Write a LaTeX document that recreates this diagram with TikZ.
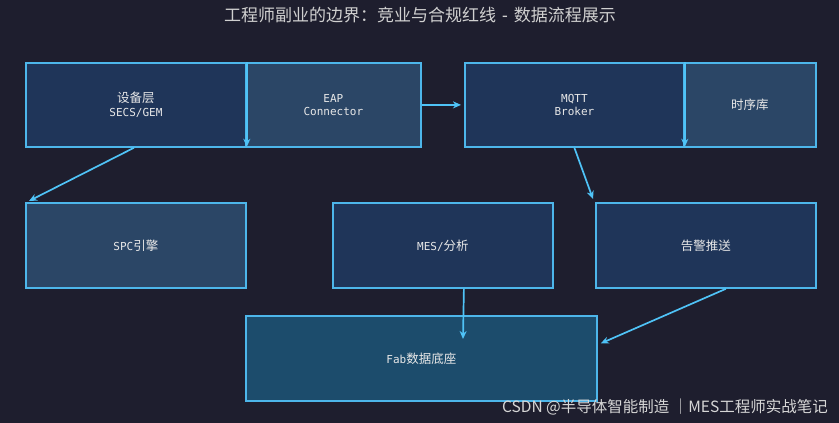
\documentclass[tikz,border=0pt]{standalone}
\usepackage{fontspec}
\usetikzlibrary{arrows.meta,calc}
\setmainfont{DejaVu Sans Mono}
\newfontfamily\cjk{Noto Sans CJK SC}
\newfontfamily\mono{DejaVu Sans Mono}
\definecolor{bgc}{HTML}{1E1E2E}
\definecolor{darkbox}{HTML}{1F3559}
\definecolor{litebox}{HTML}{2B4666}
\definecolor{fabbox}{HTML}{1C4C6C}
\definecolor{edge}{HTML}{4DB6EA}
\definecolor{arrc}{HTML}{4FC3F7}
\definecolor{txt}{HTML}{E8E8E8}
\definecolor{ttl}{HTML}{D0D0D0}
\definecolor{wm}{HTML}{D6D6D6}
\begin{document}
\begin{tikzpicture}[x=1pt,y=-1pt,
  box/.style={draw=edge,line width=1.8pt,anchor=north west,inner sep=0pt,
    text=txt,align=center,font=\fontsize{11}{13.5}\selectfont},
  dbox/.style={box,fill=darkbox},
  lbox/.style={box,fill=litebox},
  arr/.style={draw=arrc,line width=1.7pt,-{Stealth[length=8pt,width=7pt,inset=2.5pt]}}]
\fill[bgc] (0,0) rectangle (839,423);
\useasboundingbox (0,0) rectangle (839,423);
\node[text=ttl,font=\cjk\fontsize{17}{19}\selectfont] (title) at (420,15) {工程师副业的边界：竞业与合规红线 {\mono -} 数据流程展示};
% top row
\node[dbox,minimum width=220pt,minimum height=84pt] (dev) at (25,62) {{\cjk\fontsize{12.5}{13.5}\selectfont 设备层}\\SECS/GEM};
\node[lbox,minimum width=175pt,minimum height=84pt] (eap) at (245,62) {EAP\\Connector};
\node[dbox,minimum width=219pt,minimum height=84pt] (mqtt) at (464,62) {MQTT\\Broker};
\node[lbox,minimum width=132pt,minimum height=84pt] (tsdb) at (683,62) {{\cjk\fontsize{12.5}{13.5}\selectfont 时序库}};
% second row
\node[lbox,minimum width=220pt,minimum height=85pt] (spc) at (25,202) {SPC{\cjk\fontsize{12.5}{13.5}\selectfont 引擎}};
\node[dbox,minimum width=220pt,minimum height=85pt] (mes) at (332,202) {MES/{\cjk\fontsize{12.5}{13.5}\selectfont 分析}};
\node[dbox,minimum width=220pt,minimum height=85pt] (alarm) at (595,202) {{\cjk\fontsize{12.5}{13.5}\selectfont 告警推送}};
% bottom
\node[box,fill=fabbox,minimum width=351pt,minimum height=85pt] (fab) at (245,315) {Fab{\cjk\fontsize{12.5}{13.5}\selectfont 数据底座}};
\coordinate (fabin) at (463,339);
% arrows
\draw[arr] (dev.north east) -- ([yshift=1pt]dev.south east);
\draw[arr] (mqtt.north east) -- ([yshift=1pt]mqtt.south east);
\draw[arr] (eap.east) -- ([xshift=-3pt]mqtt.west);
\draw[arr] ([xshift=-2pt]dev.south) -- ([xshift=4pt,yshift=1pt]spc.north west);
\draw[arr] (mqtt.south) -- ([xshift=-2pt,yshift=3pt]alarm.north west);
\draw[arr] ([xshift=21pt]mes.south) -- (fabin);
\draw[arr] ([xshift=20pt]alarm.south) -- ([xshift=3pt,yshift=15pt]fab.east);
% watermark
\node[anchor=east,text=wm,inner sep=0pt,font=\cjk\fontsize{15.5}{17}\selectfont] (wmark) at (828,407) {CSDN @半导体智能制造 ｜MES工程师实战笔记};
\end{tikzpicture}
\end{document}
